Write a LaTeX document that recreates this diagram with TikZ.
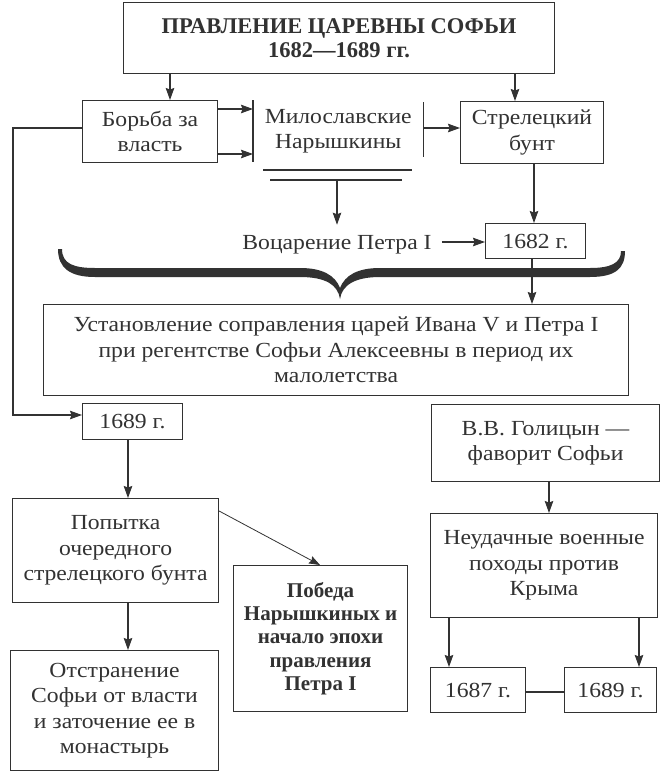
\documentclass[tikz,border=0pt]{standalone}
\usepackage{fontspec}
\setmainfont{Liberation Serif}
\newfontfamily\wideserif{Liberation Serif}[FakeStretch=1.10]
\usetikzlibrary{arrows.meta}
\definecolor{ink}{RGB}{50,50,50}
\begin{document}
\begin{tikzpicture}[x=1pt,y=-1pt,
  every node/.style={text=ink},
  box/.style={draw=ink, line width=1.1pt, inner sep=0pt, align=center, anchor=north west,
    font=\wideserif\fontsize{21.5}{25.5}\selectfont},
  plain/.style={inner sep=0pt, align=center, font=\wideserif\fontsize{21.5}{25.5}\selectfont},
  arr/.style={draw=ink, line width=1.1pt, -{Stealth[length=12pt,width=8.5pt,inset=1.5pt]}},
  ln/.style={draw=ink, line width=1.1pt},
]
\useasboundingbox[fill=white] (0,0) rectangle (664,774);

% top
\node[box, minimum width=431pt, minimum height=71pt, font=\bfseries\fontsize{22.5}{24}\selectfont]
  (top) at (123,2) {ПРАВЛЕНИЕ ЦАРЕВНЫ СОФЬИ\\1682—1689 гг.};

\node[box, minimum width=135pt, minimum height=62pt] (borba) at (82,100) {Борьба за\\власть};
\node[plain, anchor=north west, minimum width=170pt, minimum height=62pt] (milo) at (253,100) {Милославские\\Нарышкины};
\node[box, minimum width=143pt, minimum height=62pt] (strel) at (460,101) {Стрелецкий\\бунт};

\draw[ln] (milo.north west) -- (milo.south west);
\draw[ln] ([yshift=-2pt]milo.north east) -- ([yshift=5pt]milo.south east);

\draw[arr] (top.south -| 170,0) -- (borba.north -| 170,0);
\draw[arr] (top.south -| 515,0) -- (strel.north -| 515,0);
\draw[arr] (borba.east |- 0,109) -- (milo.west |- 0,109);
\draw[arr] (borba.east |- 0,154) -- (milo.west |- 0,154);
\draw[arr] (milo.east |- 0,128) -- (strel.west |- 0,128);

% double line
\coordinate (dla) at (263,170); \coordinate (dlb) at (412,170);
\coordinate (dlc) at (270,180); \coordinate (dld) at (402,180);
\coordinate (dl) at (337,180);
\draw[ln] (dla) -- (dlb);
\draw[ln] (dlc) -- (dld);

\node[plain, anchor=base, inner xsep=10pt, inner ysep=10pt] (voc) at (337,249) {Воцарение Петра I};
\draw[arr] (dl) -- (voc.north -| dl);

\node[box, minimum width=100pt, minimum height=35pt] (y1682) at (485,223) {1682 г.};
\draw[arr] (voc.east |- 0,242) -- (y1682.west |- 0,242);
\draw[arr] (strel.south -| 534,0) -- (y1682.north -| 534,0);

% brace
\fill[ink] (58,249) .. controls (58,268) and (70,277) .. (95,277) -- (300,277)
  .. controls (326,277) and (338,285) .. (340,299)
  .. controls (342,285) and (355,277) .. (380,277) -- (590,277)
  .. controls (616,277) and (625,268) .. (625,251)
  -- (621,251) .. controls (621,263) and (611,268) .. (590,268) -- (380,268)
  .. controls (358,268) and (345,275) .. (340,288)
  .. controls (335,275) and (322,268) .. (300,268) -- (95,268)
  .. controls (74,268) and (62,264) .. (62,249) -- cycle;

\node[box, minimum width=585pt, minimum height=91pt] (ust) at (43,304)
  {Установление соправления царей Ивана V и Петра I\\при регентстве Софьи Алексеевны в период их\\малолетства};
\draw[arr] (y1682.south -| 532,0) -- (ust.north -| 532,0);

% left column
\node[box, minimum width=100pt, minimum height=36pt] (b1689) at (82,403) {1689 г.};
\draw[arr] (borba.west |- 0,128) -- (13,128) -- (13,415) -- (b1689.west |- 0,415);

\node[box, minimum width=206pt, minimum height=104pt] (pop) at (12,498) {Попытка\\очередного\\стрелецкого бунта};
\draw[arr] (b1689.south -| 128,0) -- (pop.north -| 128,0);

\node[box, minimum width=208pt, minimum height=120pt] (otst) at (10,650) {Отстранение\\Софьи от власти\\и заточение ее в\\монастырь};
\draw[arr] (pop.south -| 128,0) -- (otst.north -| 128,0);

\node[box, minimum width=174pt, minimum height=146pt, font=\bfseries\fontsize{21}{23.2}\selectfont] (pob) at (233,565)
  {Победа\\Нарышкиных и\\начало эпохи\\правления\\Петра I};
\draw[ln, -{Stealth[length=11pt,width=8pt,inset=1.5pt]}, line width=0.8pt] (pop.east |- 0,511) -- (pob.north -| 320,0);

% right column
\node[box, minimum width=228pt, minimum height=77pt] (gol) at (431,404) {В.В. Голицын —\\фаворит Софьи};
\node[box, minimum width=227pt, minimum height=104pt] (neud) at (430,513) {Неудачные военные\\походы против\\Крыма};
\draw[arr] (gol.south -| 549,0) -- (neud.north -| 549,0);

\node[box, minimum width=95pt, minimum height=45pt] (y1687) at (430,667) {1687 г.};
\node[box, minimum width=92pt, minimum height=45pt] (y1689b) at (564,667) {1689 г.};
\draw[arr] (neud.south -| 449,0) -- (y1687.north -| 449,0);
\draw[arr] (neud.south -| 639,0) -- (y1689b.north -| 639,0);
\draw[ln] (y1687.east |- 0,692) -- (y1689b.west |- 0,692);
\end{tikzpicture}
\end{document}
